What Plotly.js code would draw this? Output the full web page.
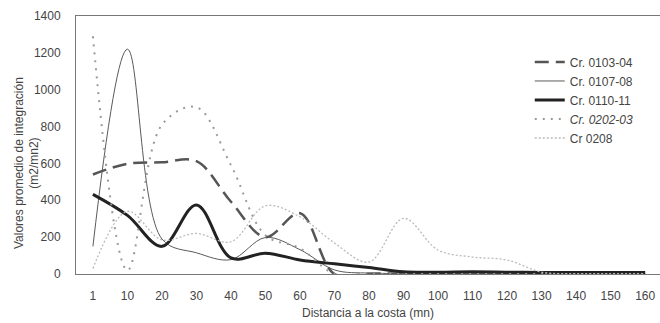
<!DOCTYPE html>
<html>
<head>
<meta charset="utf-8">
<script src="https://cdn.plot.ly/plotly-3.0.1.min.js"></script>
<style>html,body{margin:0;padding:0;background:#fff;}#chart{width:660px;height:323px;}</style>
</head>
<body>
<div id="chart"></div>
<script>
const distances = ["1","10","20","30","40","50","60","70","80","90","100","110","120","130","140","150","160"];
const cr010304 = [540, 598, 606, 612, 392, 200, 330, 0, 2, 2, 2, 2, 2, 2, 2, 2, 2];
const cr010708 = [150, 1220, 190, 115, 78, 198, 132, 22, 5, 3, 3, 3, 3, 3, 3, 3, 3];
const cr011011 = [432, 318, 150, 375, 87, 113, 76, 55, 35, 12, 10, 12, 10, 8, 8, 8, 8];
const cr020203 = [1290, 20, 810, 905, 590, 210, 140, 0, 0, 0, 0, 0, 0, 0, 0, 0, 0];
const cr0208 = [30, 340, 185, 220, 175, 370, 310, 168, 65, 302, 130, 92, 76, 10, 2, 2, 2];
const seriesNames = ["Cr. 0103-04", "Cr. 0107-08", "Cr. 0110-11", "<i>Cr. 0202-03</i>", "Cr 0208"];
const yTicks = [0, 200, 400, 600, 800, 1000, 1200, 1400];

const traces = [
  {x: distances, y: cr010304, name: seriesNames[0], mode: "lines",
   line: {color: "#555555", width: 2.5, dash: "14px,7px", shape: "spline"}},
  {x: distances, y: cr010708, name: seriesNames[1], mode: "lines",
   line: {color: "#5a5a5a", width: 1, shape: "spline"}},
  {x: distances, y: cr011011, name: seriesNames[2], mode: "lines",
   line: {color: "#222222", width: 3, shape: "spline"}},
  {x: distances, y: cr020203, name: seriesNames[3], mode: "lines",
   line: {color: "#9a9a9a", width: 2, dash: "2px,6px", shape: "spline"}},
  {x: distances, y: cr0208, name: seriesNames[4], mode: "lines",
   line: {color: "#bbbbbb", width: 1.3, dash: "2px,2px", shape: "spline"}}
];

const layout = {
  width: 660, height: 323,
  margin: {l: 76, r: 0, t: 16, b: 49},
  paper_bgcolor: "#ffffff", plot_bgcolor: "#ffffff",
  font: {family: "Liberation Sans, Arial, sans-serif", size: 12, color: "#444444"},
  showlegend: true,
  legend: {x: 0.777, y: 0.878, xanchor: "left", yanchor: "top",
           bgcolor: "rgba(0,0,0,0)", font: {size: 12, color: "#444444"},
           tracegroupgap: 0},
  xaxis: {type: "category", range: [-0.49, 16.43], showgrid: false, zeroline: false,
          showline: true, linecolor: "#777777", linewidth: 1, mirror: true,
          ticks: "", ticklabelstandoff: 11, tickfont: {size: 12, color: "#444444"},
          title: {text: "Distancia a la costa (mn)", font: {size: 12, color: "#444444"}, standoff: 6}},
  yaxis: {range: [0, 1400], tickvals: yTicks, ticktext: yTicks.map(String), showgrid: false,
          zeroline: false, showline: true, linecolor: "#777777", linewidth: 1, mirror: true,
          ticks: "", ticklabelstandoff: 12, tickfont: {size: 12, color: "#444444"}},
  annotations: [{xref: "paper", yref: "paper", x: -0.084, y: 0.43, xanchor: "center", yanchor: "middle",
    text: "Valores promedio de integración<br>(m2/mn2)", textangle: -90, showarrow: false,
    font: {size: 12, color: "#444444"}}]
};

Plotly.newPlot("chart", traces, layout, {staticPlot: true, displayModeBar: false});
</script>
</body>
</html>
